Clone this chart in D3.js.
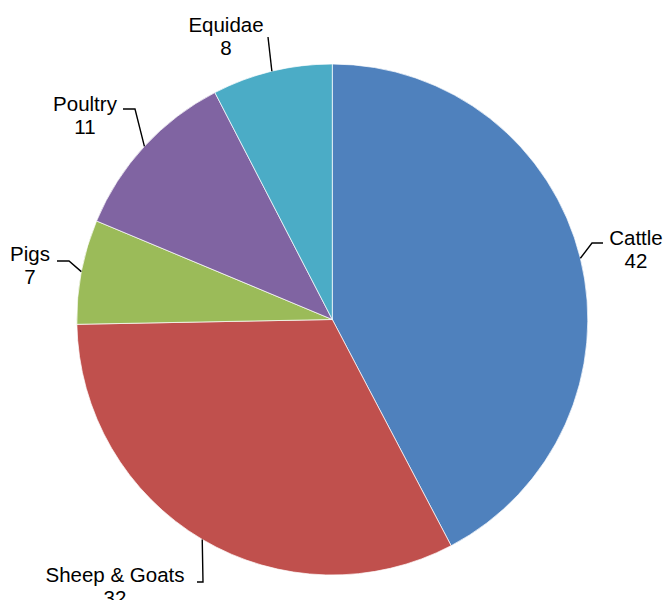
<!DOCTYPE html>
<html>
<head>
<meta charset="utf-8">
<script src="https://cdn.jsdelivr.net/npm/d3@7"></script>
<style>
  body { margin: 0; background: #fff; }
  text { font-family: "Liberation Sans", Arial, sans-serif; font-size: 20.5px; fill: #000; }
</style>
</head>
<body>
<div id="chart"></div>
<script>
// data
var categories = ['Cattle', 'Sheep & Goats', 'Pigs', 'Poultry', 'Equidae'];
var shares = [42.3, 32.4, 6.6, 11.1, 7.6];
var colours = ['#4F81BD', '#C0504D', '#9BBB59', '#8064A2', '#4BACC6'];

var width = 663,
    height = 600,
    cx = 332.3,
    cy = 319.5,
    radius = 255.5;

// label layout (text centre, first baseline, leader elbow + end)
var layout = [
  { tx: 636, ty: 245, pts: [[592, 243], [603, 243]] },
  { tx: 115, ty: 582, pts: [[203, 582], [197, 582]] },
  { tx: 30,  ty: 261, pts: [[69, 261], [57, 261]] },
  { tx: 85,  ty: 111, pts: [[135, 109], [123, 109]] },
  { tx: 226, ty: 32,  pts: [[268, 37]] }
];

var data = categories.map(function(c, i) { return { name: c, value: shares[i], i: i } });

var svg = d3.select('#chart')
  .append('svg')
  .attr('width', width)
  .attr('height', height);

var color = d3.scaleOrdinal().domain(categories).range(colours);

var pie = d3.pie()
  .sort(null)
  .value(function(d) { return d.value });

var arc = d3.arc().innerRadius(0).outerRadius(radius);
var edge = d3.arc().innerRadius(radius).outerRadius(radius);

var g = svg.append('g').attr('transform', 'translate(' + cx + ',' + cy + ')');

var arcs = pie(data);

g.selectAll('.slice')
  .data(arcs)
  .enter()
  .append('path')
  .attr('class', 'slice')
  .attr('d', arc)
  .attr('fill', function(d) { return color(d.data.name) })
  .attr('stroke', '#fff')
  .attr('stroke-width', 0.7);

// leader lines
var line = d3.line();
svg.selectAll('.leader')
  .data(arcs)
  .enter()
  .append('path')
  .attr('class', 'leader')
  .attr('fill', 'none')
  .attr('stroke', '#000')
  .attr('stroke-width', 1.4)
  .attr('d', function(d) {
    var p = edge.centroid(d);
    var start = [cx + p[0], cy + p[1]];
    return line([start].concat(layout[d.data.i].pts));
  });

// labels
var labels = svg.selectAll('.lbl')
  .data(arcs)
  .enter()
  .append('text')
  .attr('class', 'lbl')
  .attr('text-anchor', 'middle');

labels.append('tspan')
  .attr('x', function(d) { return layout[d.data.i].tx })
  .attr('y', function(d) { return layout[d.data.i].ty })
  .text(function(d) { return d.data.name });

labels.append('tspan')
  .attr('x', function(d) { return layout[d.data.i].tx })
  .attr('y', function(d) { return layout[d.data.i].ty + 23 })
  .text(function(d) { return Math.round(d.data.value) });
</script>
</body>
</html>
